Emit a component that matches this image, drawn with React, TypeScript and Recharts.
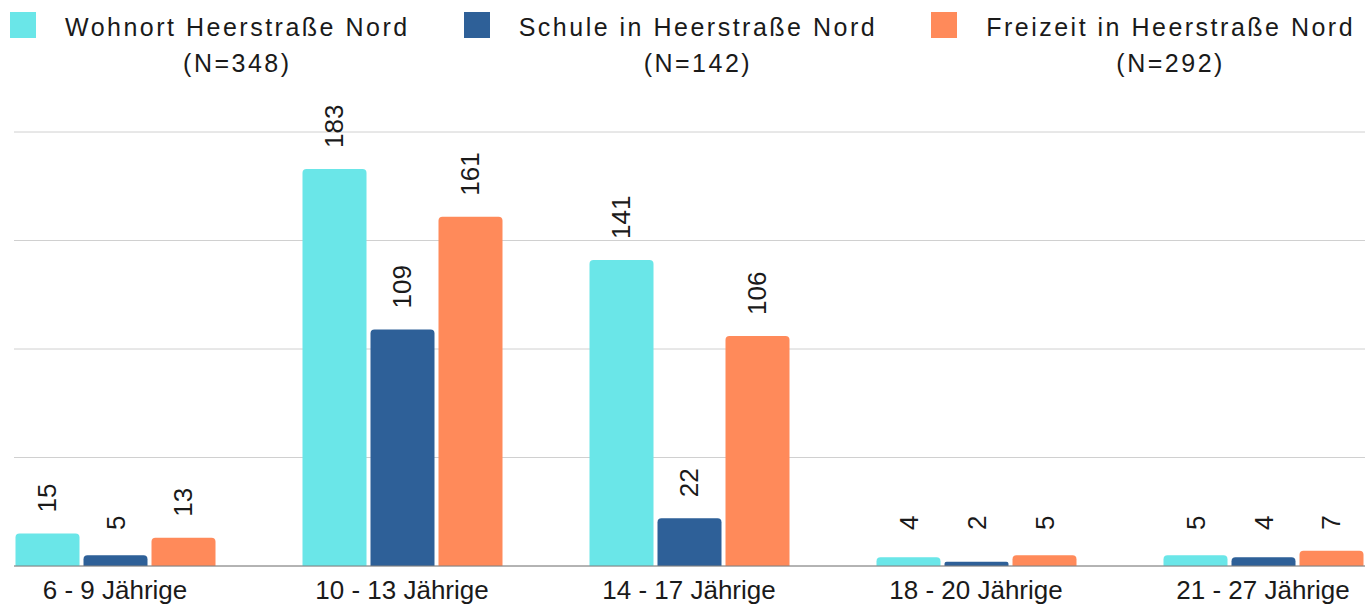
import React from 'react'
import { BarChart, Bar, XAxis, YAxis, CartesianGrid, LabelList } from 'recharts'

const categories = ['6 - 9 Jährige', '10 - 13 Jährige', '14 - 17 Jährige', '18 - 20 Jährige', '21 - 27 Jährige']
const wohnort = [15, 183, 141, 4, 5]
const schule = [5, 109, 22, 2, 4]
const freizeit = [13, 161, 106, 5, 7]
const yTicks = [0, 50, 100, 150, 200]

const series = [
  { key: 'wohnort', name: 'Wohnort Heerstraße Nord', n: 348, color: '#6ae6e8' },
  { key: 'schule', name: 'Schule in Heerstraße Nord', n: 142, color: '#2e6098' },
  { key: 'freizeit', name: 'Freizeit in Heerstraße Nord', n: 292, color: '#ff8a5a' },
]

const data = categories.map((c, i) => ({
  label: c,
  wohnort: wohnort[i],
  schule: schule[i],
  freizeit: freizeit[i],
}))

const FONT = '"Liberation Sans", Arial, sans-serif'

function ValueLabel({ x, y, width, value }: any) {
  const cx = x + width / 2
  const cy = Math.min(y - 21, 530)
  return (
    <text
      x={cx}
      y={cy}
      transform={`rotate(-90 ${cx} ${cy})`}
      textAnchor="start"
      dominantBaseline="central"
      fontSize={26}
      fontFamily={FONT}
      fill="#1a1a1a"
    >
      {value}
    </text>
  )
}

function Tick({ x, y, payload }: any) {
  return (
    <text x={x} y={y + 33} textAnchor="middle" fontSize={26} fontFamily={FONT} fill="#1a1a1a">
      {payload.value}
    </text>
  )
}

// legend sits above the plot, outside the chart's own layout
function LegendBox() {
  return (
    <div
      style={{
        position: 'absolute',
        left: 10,
        top: 0,
        display: 'flex',
        alignItems: 'flex-start',
        fontFamily: FONT,
        color: '#1a1a1a',
      }}
    >
      {series.map((s, i) => (
        <div key={s.key} style={{ display: 'flex', alignItems: 'flex-start', marginLeft: i === 0 ? 0 : 54 }}>
          <div style={{ width: 26, height: 26, background: s.color, marginTop: 12 }} />
          <div
            style={{
              marginLeft: 29,
              textAlign: 'center',
              fontSize: 25,
              letterSpacing: 2.5,
              lineHeight: '36px',
              paddingTop: 9,
            }}
          >
            <div>{s.name}</div>
            <div>(N={s.n})</div>
          </div>
        </div>
      ))}
    </div>
  )
}

export default function App() {
  return (
    <div style={{ position: 'absolute', left: 0, top: 0, width: 1371, height: 604, background: '#fff', overflow: 'hidden' }}>
      <BarChart
        width={1371}
        height={604}
        data={data}
        margin={{ top: 132, right: 6, left: 14, bottom: 0 }}
        barSize={64}
        barGap={4}
      >
        <CartesianGrid horizontal vertical={false} stroke="#d0d0d0" />
        <XAxis
          dataKey="label"
          height={38}
          padding={{ left: -42.5, right: -41.5 }}
          tickLine={false}
          tickSize={0}
          tickMargin={0}
          axisLine={{ stroke: '#808080' }}
          tick={<Tick />}
          interval={0}
        />
        <YAxis hide domain={[0, 200]} ticks={yTicks} />
        {series.map(s => (
          <Bar key={s.key} dataKey={s.key} name={s.name} fill={s.color} radius={[4, 4, 0, 0]} isAnimationActive={false}>
            <LabelList dataKey={s.key} content={<ValueLabel />} />
          </Bar>
        ))}
      </BarChart>
      <LegendBox />
    </div>
  )
}
